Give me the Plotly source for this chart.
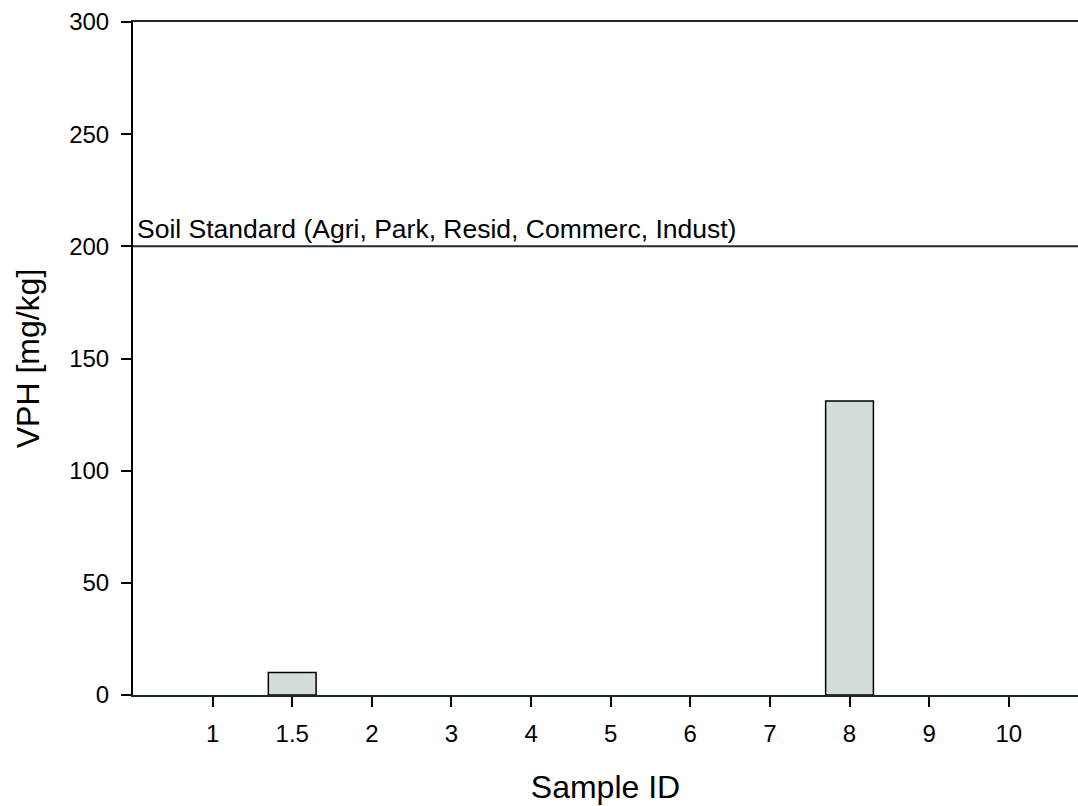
import plotly.graph_objects as go

sample_ids = ["1", "1.5", "2", "3", "4", "5", "6", "7", "8", "9", "10"]
vph_values = [None, 10, None, None, None, None, None, None, 131, None, None]
soil_standard = 200
soil_label = "Soil Standard (Agri, Park, Resid, Commerc, Indust)"
y_ticks = [0, 50, 100, 150, 200, 250, 300]
y_max = 300

FONT = "Liberation Sans, Arial"

fig = go.Figure()
fig.add_trace(go.Bar(
    x=sample_ids, y=vph_values, width=0.6,
    marker=dict(color="#d5ddd9", line=dict(color="black", width=1.5)),
    showlegend=False,
))

fig.add_hline(y=soil_standard, line=dict(color="#1e2e28", width=2), layer="above")

fig.add_annotation(x=0, xref="paper", y=soil_standard, yref="y",
                   text=soil_label, showarrow=False, xanchor="left", yanchor="bottom",
                   xshift=2, yshift=0,
                   font=dict(family=FONT, size=26.5, color="black"))

fig.update_layout(
    width=1078, height=806,
    margin=dict(l=133, r=0, t=22, b=111),
    plot_bgcolor="white", paper_bgcolor="white",
    font=dict(family=FONT, size=24, color="black"),
    bargap=0.4,
)
fig.update_xaxes(
    type="category", categoryorder="array", categoryarray=sample_ids,
    range=[-1, 10.87],
    showline=True, linecolor="#1a2a24", linewidth=2, mirror=True,
    ticks="outside", ticklen=10, tickwidth=2, tickcolor="black",
    tickfont=dict(family=FONT, size=24, color="black"),
    ticklabelstandoff=6,
    showgrid=False, zeroline=False,
    title=dict(text="Sample ID", font=dict(family=FONT, size=32), standoff=30),
)
fig.update_yaxes(
    range=[0, y_max], tickvals=y_ticks,
    showline=True, linecolor="black", linewidth=2,
    ticks="outside", ticklen=10, tickwidth=2, tickcolor="black",
    tickfont=dict(family=FONT, size=24, color="black"),
    ticklabelstandoff=7,
    showgrid=False, zeroline=False,
    title=dict(text="VPH [mg/kg]", font=dict(family=FONT, size=32), standoff=20),
)

fig.write_html("out.html")
